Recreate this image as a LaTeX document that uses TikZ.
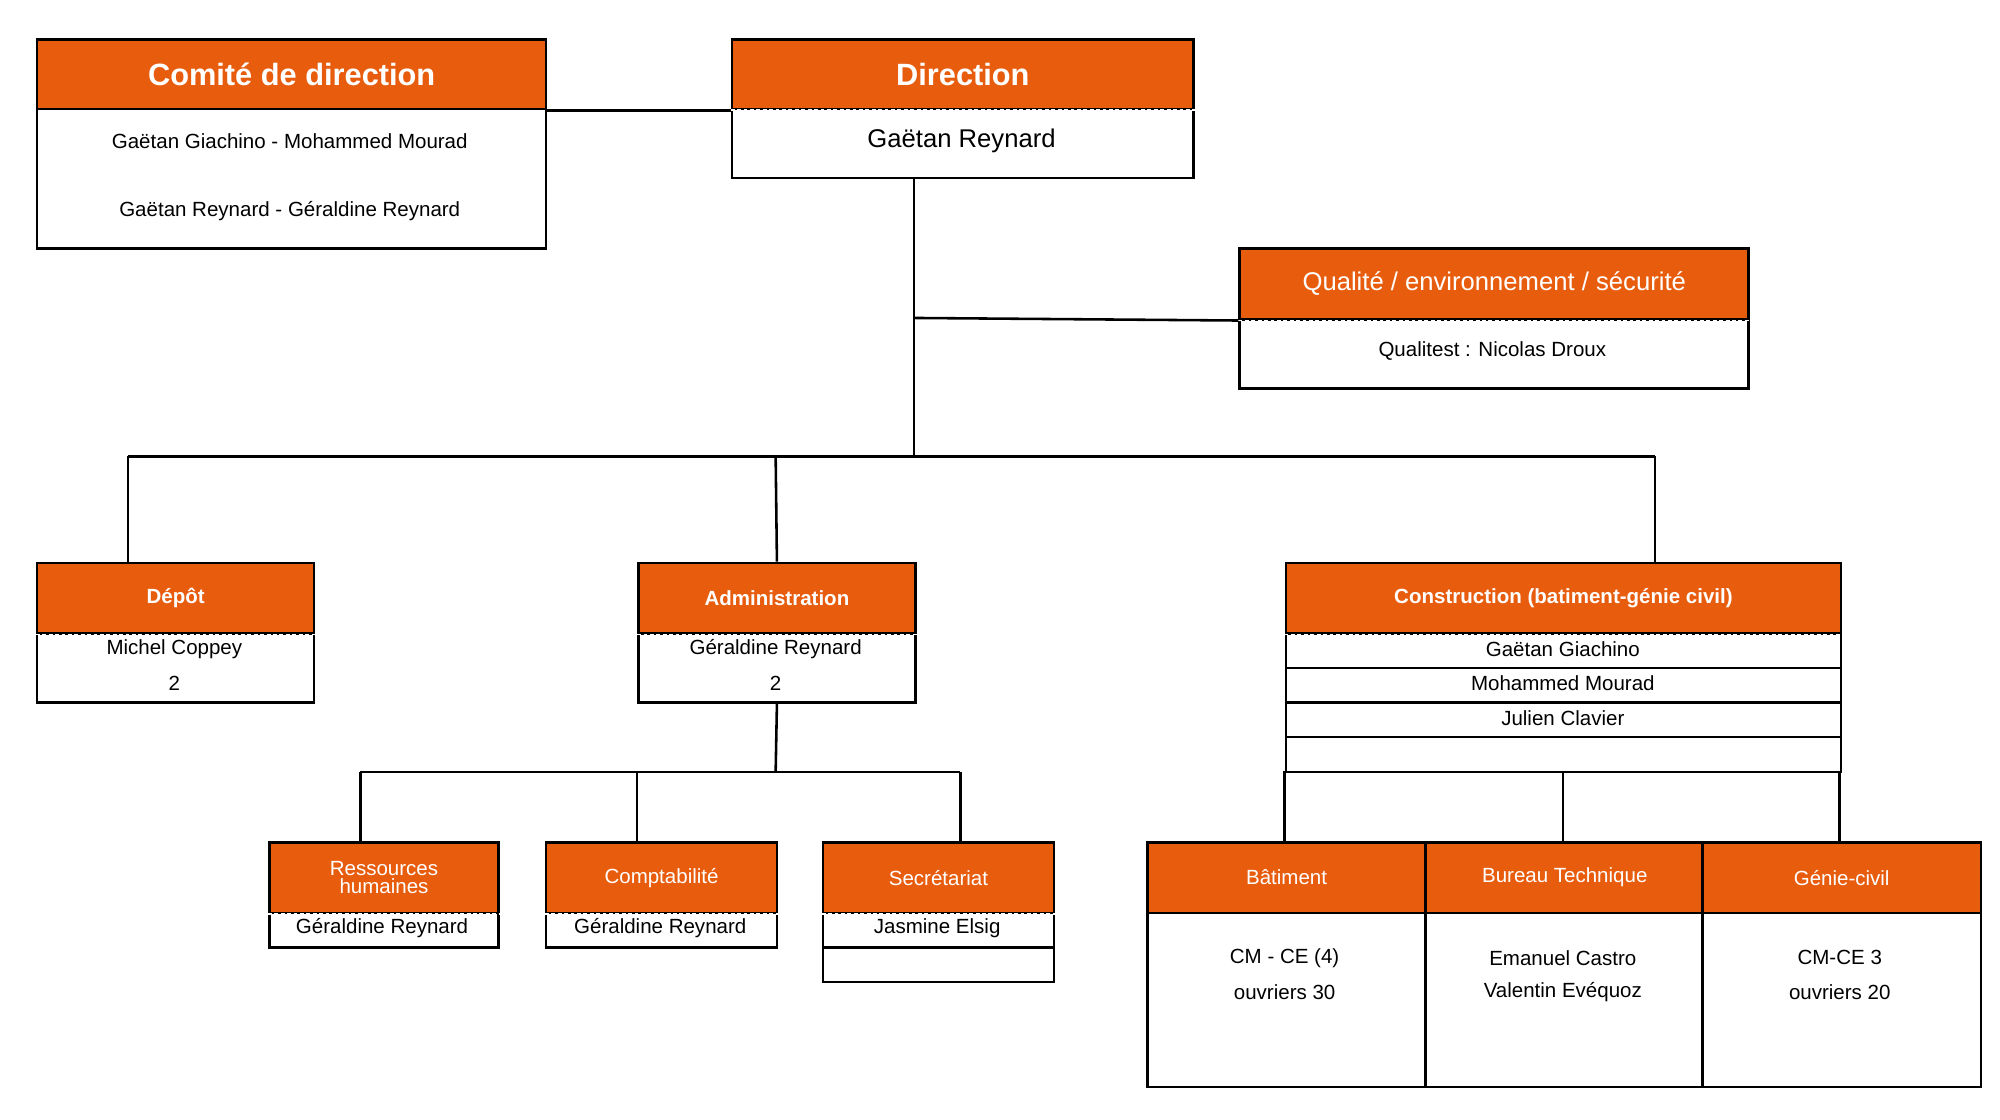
\documentclass[tikz,border=0pt]{standalone}
\usepackage{fontspec}
\setmainfont{Liberation Sans}
\definecolor{org}{HTML}{E85C0D}
\begin{document}
\begin{tikzpicture}[x=1pt,y=-1pt,line width=2pt,
 box/.style={draw,anchor=north west,inner sep=0pt,rectangle},
 hdr/.style={box,fill=org,text=white},
 bod/.style={box,fill=white},
 t/.style={inner sep=0pt,font=\fontsize{16}{18}\selectfont},
 sep/.style={draw=white,line width=1.2pt,dash pattern=on 3pt off 2pt}]
\useasboundingbox (0,0) rectangle (1560,873);
\newcommand{\hb}[7]{%
 \node[hdr,minimum width=#4,minimum height=#5,font=#6] (#1) at (#2,#3) {#7};}
% Comite
\hb{ch}{28}{30}{397}{54}{\fontsize{24}{26}\bfseries}{Comité de direction}
\node[bod,minimum width=397,minimum height=109] (cb) at (28,84) {};
\node[t] (cb1) at (226,110) {Gaëtan Giachino - Mohammed Mourad};
\node[t] (cb2) at (226,165) {Gaëtan Reynard - Géraldine Reynard};
% Direction
\node[bod,minimum width=360,minimum height=54] (db) at (570,84) {};
\hb{dh}{570}{30}{360}{54}{\fontsize{24}{26}\bfseries}{Direction}
\draw[sep] (dh.south west) -- (dh.south east);
\node[t,font=\fontsize{20}{22}\selectfont] (db1) at (750,110) {Gaëtan Reynard};
\draw (ch.south east) -- (dh.south west);
% QES
\node[bod,minimum width=397,minimum height=54] (qb) at (966,248) {};
\hb{qh}{966}{193}{397}{55}{\fontsize{20}{22}\selectfont}{Qualité / environnement / sécurité}
\draw[sep] (qh.south west) -- (qh.south east);
\node[t] (qb1) at (1164,274) {Qualitest : Nicolas Droux};
\coordinate (v1) at (713,248);
\coordinate (v2) at (713,356);
\draw (713,138) -- (v2);
\draw (v1) -- (qh.south west);
% Depot
\node[bod,minimum width=216,minimum height=54] (deb) at (28,493) {};
\hb{deh}{28}{438}{216}{55}{\fontsize{16}{18}\bfseries}{Dépôt}
\draw[sep] (deh.south west) -- (deh.south east);
\node[t] at (136,506) {Michel Coppey};
\node[t] at (136,533) {2};
% Admin
\node[bod,minimum width=216,minimum height=54] (ab) at (497,493) {};
\hb{ah}{497}{438}{216}{55}{\fontsize{16}{18}\bfseries}{Administration}
\draw[sep] (ah.south west) -- (ah.south east);
\node[t] at (605,506) {Géraldine Reynard};
\node[t] at (605,533) {2};
% Construction
\foreach \y/\n in {493/r1,520/r2,547/r3,574/r4}{
 \node[bod,minimum width=433,minimum height=27] (\n) at (1002,\y) {};}
\hb{kh}{1002}{438}{433}{55}{\fontsize{16}{18}\bfseries}{Construction (batiment-génie civil)}
\draw[sep] (kh.south west) -- (kh.south east);
\node[t] at (1219,506) {Gaëtan Giachino};
\node[t] at (1219,533) {Mohammed Mourad};
\node[t] at (1219,560) {Julien Clavier};
% bus
\draw (100,356) -- (1291,356);
\draw (100,356) -- (100,438);
\draw (605,356) -- (ah.north);
\draw (1291,356) -- (1291,438);
% admin children
\node[bod,minimum width=179,minimum height=27] (rb) at (209,711) {};
\hb{rh}{209}{656}{179}{55}{\fontsize{16}{17}\selectfont}{\shortstack{Ressources\\humaines}}
\draw[sep] (rh.south west) -- (rh.south east);
\node[t] at (298,724) {Géraldine Reynard};
\node[bod,minimum width=180,minimum height=27] (pb) at (425,711) {};
\hb{ph}{425}{656}{180}{55}{\fontsize{16}{18}\selectfont}{Comptabilité}
\draw[sep] (ph.south west) -- (ph.south east);
\node[t] at (515,724) {Géraldine Reynard};
\node[bod,minimum width=180,minimum height=27] (sb) at (641,711) {};
\node[bod,minimum width=180,minimum height=27] (sb2) at (641,738) {};
\hb{sh}{641}{656}{180}{55}{\fontsize{16}{18}\selectfont}{Secrétariat}
\draw[sep] (sh.south west) -- (sh.south east);
\node[t] at (731,724) {Jasmine Elsig};
\draw (ab.south) -- (605,602);
\draw (281,602) -- (749,602);
\draw (281,602) -- (281,656);
\draw (497,602) -- (497,656);
\draw (749,602) -- (749,656);
% construction children
\foreach \x/\n/\tt/\a/\b in {894/bt/Bâtiment/CM - CE (4)/ouvriers 30,1111/bu/Bureau Technique/Emanuel Castro/Valentin Evéquoz,1327/gc/Génie-civil/CM-CE 3/ouvriers 20}{
 \node[bod,minimum width=217,minimum height=136] (\n b) at (\x,711) {};
 \node[hdr,minimum width=217,minimum height=55,font=\fontsize{16}{18}\selectfont] (\n h) at (\x,656) {\tt};
 \node[t] at (\x+108,747) {\a};
 \node[t] at (\x+108,774) {\b};}
\draw (1002,601) -- (1002,656);
\draw (1219,601) -- (1219,656);
\draw (1435,601) -- (1435,656);
\end{tikzpicture}
\end{document}
